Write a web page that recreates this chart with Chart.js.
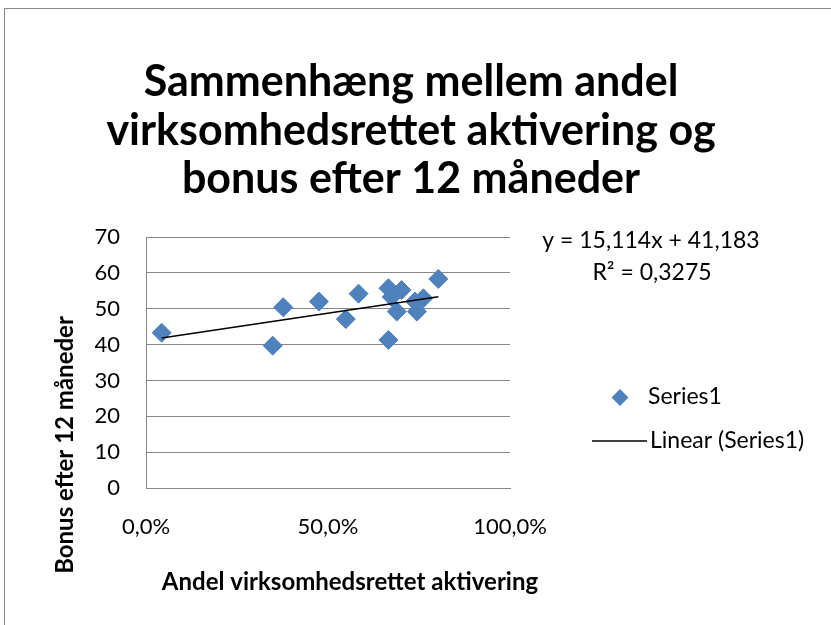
<!DOCTYPE html>
<html>
<head>
<meta charset="utf-8">
<script src="https://cdn.jsdelivr.net/npm/chart.js@4/dist/chart.umd.min.js"></script>
<style>
  html, body { margin: 0; padding: 0; background: #fff; }
</style>
</head>
<body>
<canvas id="grafik" width="831" height="625"></canvas>
<script>
// data
const andel = [0.043, 0.348, 0.377, 0.475, 0.549, 0.584, 0.666, 0.666, 0.675, 0.702, 0.689, 0.739, 0.744, 0.762, 0.803];
const bonus = [43.3, 39.7, 50.4, 52.0, 47.1, 54.2, 55.7, 41.3, 53.3, 55.2, 49.2, 52.0, 49.2, 52.9, 58.3];
const xTicks = [0, 0.5, 1];
const yTicks = [0, 10, 20, 30, 40, 50, 60, 70];

const titel = ["Sammenhæng mellem andel", "virksomhedsrettet aktivering og", "bonus efter 12 måneder"];
const xTitel = "Andel virksomhedsrettet aktivering";
const yTitel = "Bonus efter 12 måneder";
const serieNavn = "Series1";
const trendNavn = "Linear (Series1)";
const trendHaeldning = 15.114;
const trendSkaering = 41.183;
const trendR2 = 0.3275;

const BLAA = "#4F81BD";
const GRAA = "#868686";
const FONT = "Lato, 'Open Sans', sans-serif";

const punkter = andel.map((x, i) => ({ x: x, y: bonus[i] }));
const xMin = Math.min(...andel);
const xMax = Math.max(...andel);
const trendPunkter = [
  { x: xMin, y: trendSkaering + trendHaeldning * xMin },
  { x: xMax, y: trendSkaering + trendHaeldning * xMax },
];

const komma = v => String(v).replace(".", ",");

// tekster, legend og ramme tegnes selv (Excel-layout)
const tekstPlugin = {
  id: "tekster",
  beforeDraw(chart) {
    const ctx = chart.ctx;
    ctx.save();
    ctx.fillStyle = "#fff";
    ctx.fillRect(0, 0, chart.width, chart.height);
    ctx.strokeStyle = GRAA;
    ctx.lineWidth = 1;
    ctx.beginPath();
    ctx.moveTo(4.5, chart.height);
    ctx.lineTo(4.5, 8.5);
    ctx.lineTo(chart.width, 8.5);
    ctx.stroke();
    ctx.restore();
  },
  afterDraw(chart) {
    const ctx = chart.ctx;
    ctx.save();
    ctx.fillStyle = "#000";
    ctx.textAlign = "center";
    ctx.textBaseline = "alphabetic";

    // hovedtitel
    ctx.font = "bold 43px " + FONT;
    titel.forEach((linje, i) => ctx.fillText(linje, 411, 96 + i * 48.5));

    // aksetitler
    ctx.font = "bold 24px " + FONT;
    ctx.fillText(xTitel, 350, 590);
    ctx.save();
    ctx.translate(73, 445);
    ctx.rotate(-Math.PI / 2);
    ctx.fillText(yTitel, 0, 0);
    ctx.restore();

    // trendlinjens ligning
    ctx.font = "23px " + FONT;
    ctx.textBaseline = "middle";
    ctx.fillText("y = " + komma(trendHaeldning) + "x + " + komma(trendSkaering), 651, 241);
    ctx.fillText("R² = " + komma(trendR2), 652, 273);

    // legend
    ctx.textAlign = "left";
    ctx.fillStyle = BLAA;
    ctx.beginPath();
    ctx.moveTo(620, 389);
    ctx.lineTo(628.5, 397.5);
    ctx.lineTo(620, 406);
    ctx.lineTo(611.5, 397.5);
    ctx.closePath();
    ctx.fill();
    ctx.fillStyle = "#000";
    ctx.fillText(serieNavn, 648, 397);
    ctx.strokeStyle = "#000";
    ctx.lineWidth = 1.5;
    ctx.beginPath();
    ctx.moveTo(592, 441);
    ctx.lineTo(647, 441);
    ctx.stroke();
    ctx.fillText(trendNavn, 650, 441);
    ctx.restore();
  },
};

const ctx = document.getElementById("grafik").getContext("2d");
const grafik = new Chart(ctx, {
  type: "scatter",
  data: {
    datasets: [
      {
        label: serieNavn,
        data: punkter,
        pointStyle: "rectRot",
        pointRadius: 9.5,
        pointHoverRadius: 9.5,
        backgroundColor: BLAA,
        borderColor: BLAA,
        borderWidth: 1,
        order: 2,
      },
      {
        label: trendNavn,
        type: "line",
        data: trendPunkter,
        borderColor: "#000",
        borderWidth: 1.6,
        pointRadius: 0,
        fill: false,
        order: 1,
      },
    ],
  },
  options: {
    responsive: false,
    animation: false,
    events: [],
    layout: {
      autoPadding: false,
      padding: { left: 0, top: 237, right: 321, bottom: 77 },
    },
    scales: {
      x: {
        type: "linear",
        min: 0,
        max: 1,
        afterBuildTicks: s => { s.ticks = xTicks.map(v => ({ value: v })); },
        afterFit: s => { s.height = 60; },
        ticks: {
          color: "#000",
          padding: 26,
          maxRotation: 0,
          font: { family: FONT, size: 22 },
          callback: v => (v * 100).toFixed(1).replace(".", ",") + "%",
        },
        grid: { display: false, drawTicks: false },
        border: { display: true, color: GRAA, width: 1 },
      },
      y: {
        min: 0,
        max: 70,
        afterBuildTicks: s => { s.ticks = yTicks.map(v => ({ value: v })); },
        afterFit: s => { s.width = 146; },
        ticks: {
          color: "#000",
          padding: 26,
          font: { family: FONT, size: 22 },
        },
        grid: { color: GRAA, drawTicks: false, lineWidth: 1 },
        border: { display: true, color: GRAA, width: 1 },
      },
    },
    plugins: {
      legend: { display: false },
      title: { display: false },
      tooltip: { enabled: false },
    },
  },
  plugins: [tekstPlugin],
});
</script>
</body>
</html>
